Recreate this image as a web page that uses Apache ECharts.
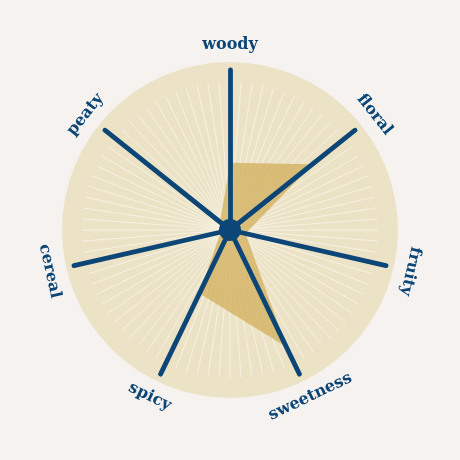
<!DOCTYPE html>
<html>
<head>
<meta charset="utf-8">
<script src="https://cdn.jsdelivr.net/npm/echarts@6/dist/echarts.min.js"></script>
<style>
html,body{margin:0;padding:0;background:#f6f2ef;}
#chart{width:460px;height:460px;}
</style>
</head>
<body>
<div id="chart"></div>
<script>
// ---- data ----
const categories = ['woody', 'floral', 'fruity', 'sweetness', 'spicy', 'cereal', 'peaty'];
const values = [4.2, 6.6, 1.0, 8.1, 4.4, 0.6, 0.8];
const scaleMax = 10;

// ---- styles ----
const BLUE = '#0b4677';
const BEIGE = '#ece3c7';
const GOLD = 'rgba(211,178,98,0.8)';

// radar indicators run counter-clockwise from the top
const order = [0].concat(categories.slice(1).map((c, i) => categories.length - 1 - i));
const indicator = order.map(i => ({ name: categories[i], max: scaleMax, min: 0 }));
const radarValues = order.map(i => values[i]);

const n = categories.length;
const labelData = categories.map((c, i) => {
  const a = i * 360 / n; // clockwise from top
  const flip = a > 120 && a < 300;
  const rot = flip ? 180 - a : -a;
  return { value: [1, c], label: { rotate: rot } };
});

const chart = echarts.init(document.getElementById('chart'), null, { renderer: 'canvas' });
chart.setOption({
  backgroundColor: '#f6f2ef',
  animation: false,
  polar: [
    { center: ['50%', '50%'], radius: 168 },
    { center: ['50%', '50%'], radius: 148 },
    { center: ['50%', '50%'], radius: 185 }
  ],
  angleAxis: [
    { polarIndex: 0, type: 'value', min: 0, max: 360, show: false },
    {
      polarIndex: 1, type: 'value', min: 0, max: 360, interval: 360 / 84, startAngle: 90, z: 1,
      axisLine: { show: false }, axisTick: { show: false }, axisLabel: { show: false },
      splitLine: { show: true, lineStyle: { color: 'rgba(255,255,255,0.5)', width: 1 } }
    },
    {
      polarIndex: 2, type: 'category', data: categories, boundaryGap: false, startAngle: 90, clockwise: true,
      axisLine: { show: false }, axisTick: { show: false }, axisLabel: { show: false }, splitLine: { show: false }
    }
  ],
  radiusAxis: [
    {
      polarIndex: 0, type: 'value', min: 0, max: 1, interval: 1, z: 0,
      axisLine: { show: false }, axisTick: { show: false }, axisLabel: { show: false }, splitLine: { show: false },
      splitArea: { show: true, areaStyle: { color: [BEIGE] } }
    },
    { polarIndex: 1, type: 'value', min: 0, max: 1, show: false },
    { polarIndex: 2, type: 'value', min: 0, max: 1, show: false }
  ],
  radar: {
    center: ['50%', '50%'],
    radius: 160,
    startAngle: 90,
    shape: 'circle',
    z: 5,
    indicator: indicator,
    axisName: { show: false },
    splitNumber: 1,
    splitLine: { show: false },
    splitArea: { show: false },
    axisTick: { show: false },
    axisLabel: { show: false },
    axisLine: { show: true, lineStyle: { color: BLUE, width: 4.8 } }
  },
  series: [
    {
      type: 'radar',
      z: 2,
      symbol: 'none',
      silent: true,
      lineStyle: { width: 0, opacity: 0 },
      areaStyle: { color: GOLD, opacity: 1 },
      data: [{ value: radarValues }]
    },
    {
      type: 'scatter',
      coordinateSystem: 'polar',
      polarIndex: 2,
      symbolSize: 0,
      silent: true,
      z: 10,
      itemStyle: { opacity: 1 },
      label: {
        show: true,
        position: 'inside',
        formatter: p => p.value[1],
        color: BLUE,
        fontFamily: 'DejaVu Serif',
        fontWeight: 'bold',
        fontSize: 16
      },
      data: labelData
    },
    {
      type: 'scatter',
      coordinateSystem: 'polar',
      polarIndex: 2,
      symbol: 'circle',
      symbolSize: 22,
      silent: true,
      z: 12,
      itemStyle: { color: BLUE, opacity: 1 },
      data: [[0, categories[0]]]
    }
  ]
});
</script>
</body>
</html>
